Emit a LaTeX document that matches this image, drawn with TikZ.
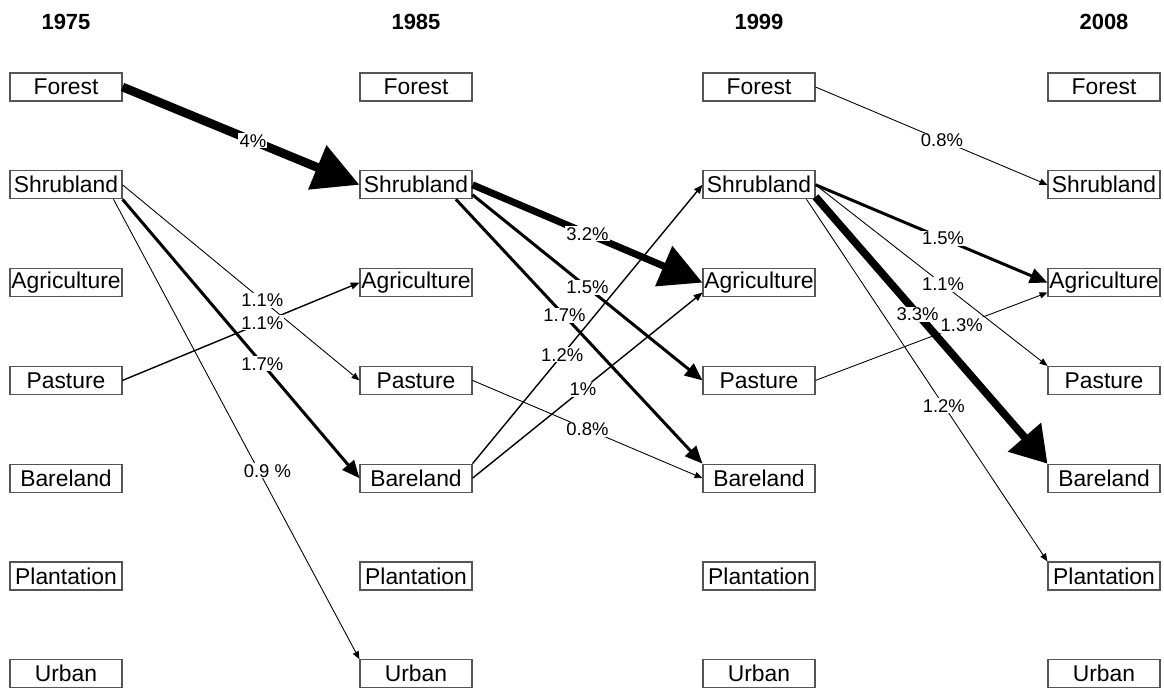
\documentclass[tikz,border=0pt]{standalone}
\usepackage{fontspec}
\setmainfont{Liberation Sans}
\usetikzlibrary{arrows.meta, positioning}
\definecolor{boxGray}{HTML}{555555}
\tikzset{
  boxL/.style={rectangle, draw=boxGray, line width=0.6pt, fill=white,
               minimum width=2.24cm, minimum height=0.56cm, inner sep=0pt,
               font=\fontsize{13}{15}\selectfont},
  yearL/.style={font=\bfseries\fontsize{12.5}{14}\selectfont},
  pctL/.style={fill=white, inner sep=0.6pt, font=\fontsize{10.5}{12}\selectfont},
  arrowThin/.style={-{Triangle[length=4.5pt, width=3.6pt]}, line width=0.5pt},
  arrowMid/.style={-{Triangle[length=5pt, width=4pt]}, line width=0.8pt},
  arrowBold/.style={-{Triangle[length=10pt, width=8.5pt]}, line width=1.7pt},
  arrowHuge/.style={-{Triangle[length=24pt, width=24pt]}, line width=4.4pt},
}
\begin{document}
\begin{tikzpicture}[x=0.02cm, y=-0.02cm]
  \useasboundingbox (0,0) rectangle (1164,689);
  \foreach \c/\x/\yr in {1/66/1975, 2/416/1985, 3/759/1999, 4/1104/2008} {
    \node[yearL] (yr\c) at (\x,22) {\yr};
    \foreach \n/\t [count=\i from 0] in {f/Forest, s/Shrubland, ag/Agriculture,
        p/Pasture, b/Bareland, pl/Plantation, u/Urban}
      \node[boxL] (\n\c) at (\x,{87+97.8*\i}) {\t};
  }
  % 1975 -> 1985
  \draw[arrowHuge, line width=5pt, -{Triangle[length=26pt, width=26pt]}]
    (f1.east) -- coordinate[pos=0.55] (m1) (s2.west);
  \draw[arrowThin] (s1.east) -- coordinate[pos=0.59] (m2) (p2.west);
  \draw[arrowBold] (s1.south east) -- coordinate[pos=0.59] (m3) (b2.west);
  \draw[arrowThin] (s1.-17) -- coordinate[pos=0.59, xshift=5pt] (m4) (u2.north west);
  \draw[arrowMid] (p1.east) -- coordinate[pos=0.59] (m5) (ag2.west);
  % 1985 -> 1999
  \draw[arrowHuge, line width=4pt] (s2.east) -- coordinate[pos=0.5] (m6) (ag3.west);
  \draw[arrowBold] (s2.-10) -- coordinate[pos=0.5] (m7) (p3.west);
  \draw[arrowBold] (s2.-20) -- coordinate[pos=0.44] (m8) (b3.north west);
  \draw[arrowThin] (p2.east) -- coordinate[pos=0.5] (m9) (b3.west);
  \draw[arrowMid] (b2.north east) -- coordinate[pos=0.39] (m10) (s3.west);
  \draw[arrowMid] (b2.east) -- coordinate[pos=0.48] (m11) (ag3.190);
  % 1999 -> 2008
  \draw[arrowThin] (f3.east) -- coordinate[pos=0.545] (m12) (s4.west);
  \draw[arrowBold] (s3.east) -- coordinate[pos=0.55] (m13) (ag4.west);
  \draw[arrowThin] (s3.east) -- coordinate[pos=0.55] (m14) (p4.north west);
  \draw[arrowHuge, -{Triangle[length=20pt, width=24pt]}]
    (s3.-12) -- coordinate[pos=0.44] (m15) (b4.north west);
  \draw[arrowThin] (s3.-17) -- coordinate[pos=0.57] (m16) (pl4.north west);
  \draw[arrowThin] (p3.east) -- coordinate[pos=0.63] (m17) (ag4.190);
  % labels on top of every line
  \foreach \m/\t in {m1/4\%, m2/1.1\%, m3/1.7\%, m4/0.9 \%, m5/1.1\%, m6/3.2\%,
      m7/1.5\%, m8/1.7\%, m9/0.8\%, m10/1.2\%, m11/1\%, m12/0.8\%, m13/1.5\%,
      m14/1.1\%, m15/3.3\%, m16/1.2\%, m17/1.3\%}
    \node[pctL] (l\m) at (\m) {\t};
\end{tikzpicture}
\end{document}
